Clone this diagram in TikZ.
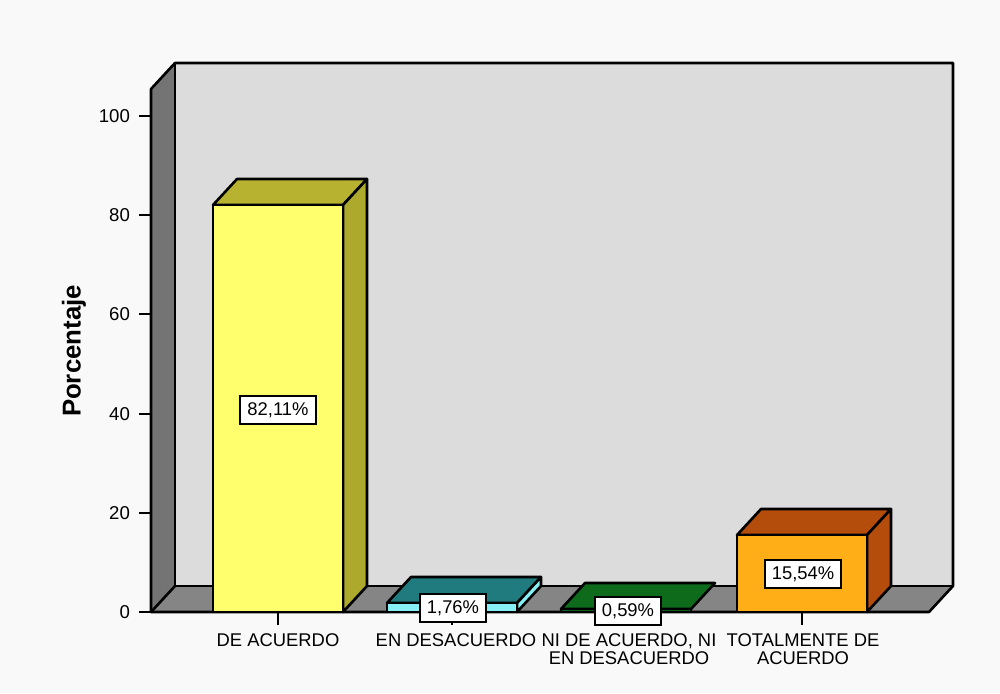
\documentclass[tikz,border=0pt]{standalone}
\usepackage{fontspec}
\setmainfont{Liberation Sans}
\definecolor{paper}{HTML}{F9F9F9}
\definecolor{wallback}{HTML}{DCDCDC}
\definecolor{wallside}{HTML}{747474}
\definecolor{wallfloor}{HTML}{858585}
\definecolor{yfront}{HTML}{FFFF6E}
\definecolor{ytop}{HTML}{B7B331}
\definecolor{yside}{HTML}{ACA92C}
\definecolor{cfront}{HTML}{86F0F6}
\definecolor{ctop}{HTML}{1F7B7D}
\definecolor{gfront}{HTML}{0B5E16}
\definecolor{gtop}{HTML}{0F6B1C}
\definecolor{ofront}{HTML}{FFAE17}
\definecolor{otop}{HTML}{B44C0B}
\tikzset{
  edge/.style={draw=black, line width=1.3pt, line join=round},
  valbox/.style={draw=black, fill=white, line width=1pt, inner xsep=3.5pt, minimum height=14pt, font=\fontsize{9.2}{10}\selectfont},
  catlab/.style={align=center, font=\fontsize{9.2}{8.8}\selectfont, anchor=north},
  ticklab/.style={anchor=east, font=\fontsize{9.3}{10}\selectfont}
}
\begin{document}
\begin{tikzpicture}[x=0.5pt, y=-0.5pt]
\useasboundingbox [fill=paper] (0,0) rectangle (1000,693);

% walls and floor
\fill [wallback] (175,63) rectangle (953,586);
\fill [wallside] (151,612) -- (151,89) -- (175,63) -- (175,586) -- cycle;
\fill [wallfloor] (151,612) -- (175,586) -- (953,586) -- (929,612) -- cycle;
\draw [edge] (151,612) -- (151,89) -- (175,63) -- (953,63) -- (953,586) -- (929,612) -- cycle;
\draw [edge] (175,63) -- (175,586) -- (953,586);
\draw [edge] (151,612) -- (175,586);

% y axis
\draw [edge] (139,612) -- (151,612);
\draw [edge] (139,513) -- (151,513);
\draw [edge] (139,414) -- (151,414);
\draw [edge] (139,314) -- (151,314);
\draw [edge] (139,215) -- (151,215);
\draw [edge] (139,116) -- (151,116);
\node (t0) [ticklab] at (137,612) {0};
\node (t20) [ticklab] at (137,513) {20};
\node (t40) [ticklab] at (137,414) {40};
\node (t60) [ticklab] at (137,314) {60};
\node (t80) [ticklab] at (137,215) {80};
\node (t100) [ticklab] at (137,116) {100};
\node (ylab) [rotate=90, font=\fontsize{12.9}{14}\bfseries] at (74,351) {Porcentaje};

% bar: de acuerdo
\filldraw [edge, fill=ytop] (213,205) -- (237,179) -- (367,179) -- (343,205) -- cycle;
\filldraw [edge, fill=yside] (343,205) -- (367,179) -- (367,586) -- (343,612) -- cycle;
\filldraw [edge, fill=yfront] (213,612) rectangle (343,205);

% bar: en desacuerdo
\filldraw [edge, fill=ctop] (387,603) -- (411,577) -- (541,577) -- (517,603) -- cycle;
\filldraw [edge, fill=cfront] (517,603) -- (541,577) -- (541,586) -- (517,612) -- cycle;
\filldraw [edge, fill=cfront] (387,612) rectangle (517,603);

% bar: ni de acuerdo, ni en desacuerdo
\filldraw [edge, fill=gtop] (561,609) -- (585,583) -- (715,583) -- (691,609) -- cycle;
\filldraw [edge, fill=gfront] (561,612) rectangle (691,609);

% bar: totalmente de acuerdo
\filldraw [edge, fill=otop] (737,535) -- (761,509) -- (891,509) -- (867,535) -- cycle;
\filldraw [edge, fill=otop] (867,535) -- (891,509) -- (891,586) -- (867,612) -- cycle;
\filldraw [edge, fill=ofront] (737,612) rectangle (867,535);

% x axis
\draw [edge] (151,612) -- (929,612);
\draw [edge] (278,612) -- (278,625);
\draw [edge] (452,612) -- (452,625);
\draw [edge] (626,612) -- (626,625);
\draw [edge] (802,612) -- (802,625);

\node (v1) [valbox] at (278,410) {82,11\%};
\node (v2) [valbox] at (453,608) {1,76\%};
\node (v3) [valbox] at (628,611) {0,59\%};
\node (v4) [valbox] at (803,574) {15,54\%};

\node (c1) [catlab] at (278,627) {DE ACUERDO};
\node (c2) [catlab] at (456,627) {EN DESACUERDO};
\node (c3) [catlab] at (629,627) {NI DE ACUERDO, NI\\EN DESACUERDO};
\node (c4) [catlab] at (803,627) {TOTALMENTE DE\\ACUERDO};
\end{tikzpicture}
\end{document}
